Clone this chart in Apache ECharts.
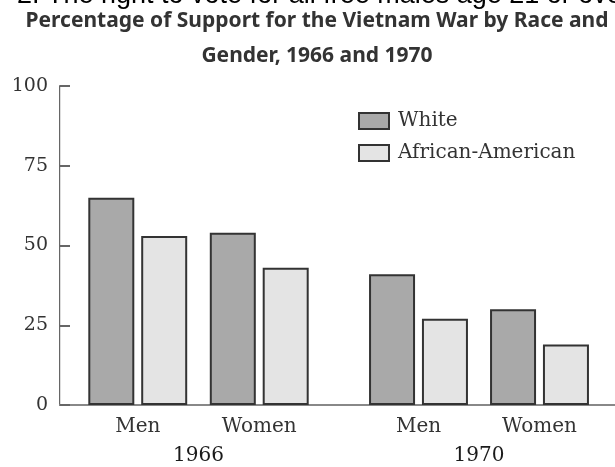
<!DOCTYPE html>
<html>
<head>
<meta charset="utf-8">
<script src="https://cdn.jsdelivr.net/npm/echarts@6/dist/echarts.min.js"></script>
<style>
  html, body {margin: 0; padding: 0; background: #fff;}
  #chart {width: 615px; height: 467px;}
</style>
</head>
<body>
<div id="chart"></div>
<script>
// data
const groups = ['Men', 'Women'];
const years = ['1966', '1970'];
const white1966 = [65, 54];
const african1966 = [53, 43];
const white1970 = [41, 30];
const african1970 = [27, 19];
const yTicks = [0, 25, 50, 75, 100];

const serif = 'DejaVu Serif';
const whiteFill = '#a9a9a9';
const africanFill = '#e4e4e4';
const edge = '#333';

const chart = echarts.init(document.getElementById('chart'));

const hiddenY = (gi) => ({
    gridIndex: gi, type: 'value', min: yTicks[0], max: yTicks[yTicks.length - 1],
    show: false
});
const groupAxis = (gi) => ({
    gridIndex: gi, type: 'category', data: groups, position: 'bottom',
    axisLine: {show: false}, axisTick: {show: false},
    axisLabel: {fontFamily: serif, fontSize: 20, color: '#333', margin: 12}
});
const yearAxis = (gi, y) => ({
    gridIndex: gi, type: 'category', data: [y], position: 'bottom', offset: 29,
    axisLine: {show: false}, axisTick: {show: false},
    axisLabel: {fontFamily: serif, fontSize: 20, color: '#1a1a1a', margin: 12}
});
const bar = (name, gi, data, fill) => ({
    name, type: 'bar', xAxisIndex: gi === 1 ? 1 : 3, yAxisIndex: gi === 1 ? 2 : 3,
    data, barWidth: 46, barGap: '15%',
    itemStyle: {color: fill, borderColor: edge, borderWidth: 2}
});

chart.setOption({
    animation: false,
    title: [{
        text: '2. The right to vote for all free males age 21 or over',
        left: 17, top: -18, padding: 0,
        textStyle: {fontFamily: 'Liberation Sans', fontSize: 27, fontWeight: 'normal', color: '#000'}
    }, {
        text: 'Percentage of Support for the Vietnam War by Race and\nGender, 1966 and 1970',
        left: 317, textAlign: 'center', top: 4, padding: 0,
        textStyle: {fontFamily: 'Noto Sans', fontSize: 21, fontWeight: 'bold', color: '#333', lineHeight: 35}
    }],
    legend: {
        orient: 'vertical', left: 358, top: 111, itemWidth: 30, itemHeight: 16, itemGap: 12,
        icon: 'rect', padding: 0,
        data: ['White', 'African-American'],
        textStyle: {fontFamily: serif, fontSize: 20, color: '#333', padding: [0, 0, 0, 4]}
    },
    grid: [
        {left: 60, right: 1, top: 86, bottom: 62},
        {left: 77, width: 243, top: 86, bottom: 62},
        {left: 358, width: 242, top: 86, bottom: 62}
    ],
    xAxis: [
        {gridIndex: 0, type: 'value', min: 0, max: 1, position: 'bottom',
         axisLine: {show: true, lineStyle: {color: '#666', width: 2}},
         axisTick: {show: false}, axisLabel: {show: false}, splitLine: {show: false}},
        groupAxis(1),
        yearAxis(1, years[0]),
        groupAxis(2),
        yearAxis(2, years[1]),
        {gridIndex: 0, type: 'value', min: 0, max: 1, position: 'top',
         axisLine: {show: true, lineStyle: {color: '#888', width: 2}},
         axisTick: {show: false}, axisLabel: {show: false}, splitLine: {show: false}}
    ],
    yAxis: [
        {gridIndex: 0, type: 'value', min: 0, max: 100, interval: 25,
         axisLine: {show: true, lineStyle: {color: '#666', width: 2}},
         axisTick: {show: true, inside: true, length: 10, lineStyle: {color: '#666', width: 2}},
         axisLabel: {fontFamily: serif, fontSize: 19, color: '#333', margin: 12},
         splitLine: {show: false}},
        {gridIndex: 0, type: 'value', min: 0, max: 100, position: 'right',
         axisLine: {show: true, lineStyle: {color: '#ddd', width: 1}},
         axisTick: {show: false}, axisLabel: {show: false}, splitLine: {show: false}},
        hiddenY(1),
        hiddenY(2)
    ],
    series: [
        bar('White', 1, white1966, whiteFill),
        bar('African-American', 1, african1966, africanFill),
        bar('White', 2, white1970, whiteFill),
        bar('African-American', 2, african1970, africanFill)
    ]
});
</script>
</body>
</html>
